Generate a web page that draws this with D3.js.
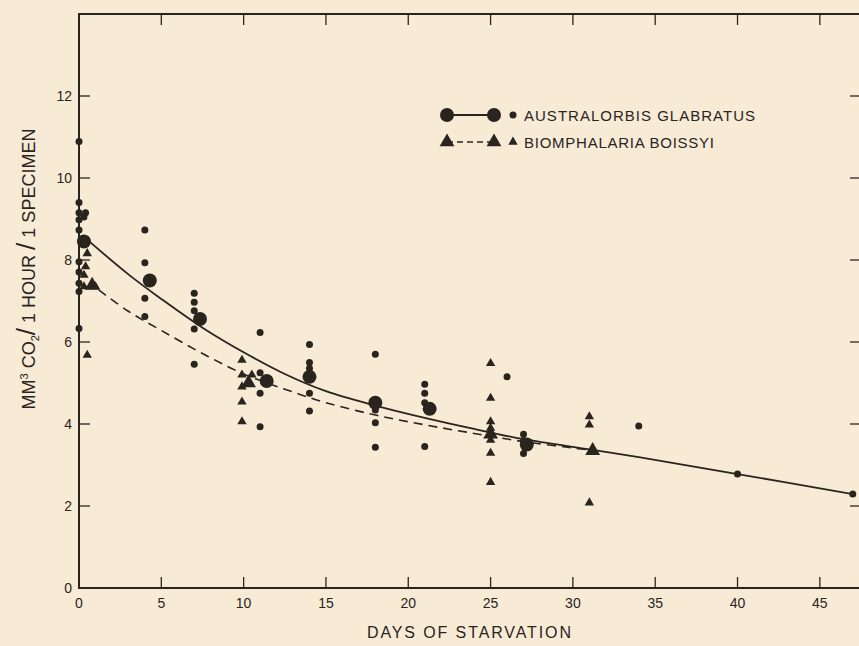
<!DOCTYPE html>
<html>
<head>
<meta charset="utf-8">
<script src="https://cdn.jsdelivr.net/npm/d3@7"></script>
<style>
  html, body { margin: 0; padding: 0; background: #f7ebd5; }
  svg { display: block; }
  text { font-family: "Liberation Sans", "DejaVu Sans", sans-serif; fill: #2a241f; }
</style>
</head>
<body>
<div id="chart"></div>
<script>
// Australorbis glabratus: individual readings [day, value]
var glabratusPoints = [
  [0, 10.89], [0, 9.40], [0, 9.15], [0.4, 9.15], [0.3, 9.05], [0, 8.98], [0, 8.73],
  [0, 7.96], [0, 7.71], [0, 7.43], [0, 7.23], [0, 6.33],
  [4, 8.73], [4, 7.93], [4, 7.07], [4, 6.62],
  [7, 7.19], [7, 6.97], [7, 6.76], [7, 6.32], [7, 5.46],
  [11, 6.23], [11, 5.25], [11, 4.75], [11, 3.93],
  [14, 5.94], [14, 5.50], [14, 5.36], [14, 4.75], [14, 4.32],
  [18, 5.70], [18, 4.34], [18, 4.03], [18, 3.43],
  [21, 4.97], [21, 4.75], [21, 4.52], [21, 3.45],
  [26, 5.15],
  [27, 3.75], [27, 3.60], [27, 3.28],
  [34, 3.95], [40, 2.78], [47, 2.29]
];
// Australorbis glabratus: means (large dots)
var glabratusMeans = [
  [0.3, 8.45], [4.3, 7.5], [7.35, 6.56], [11.4, 5.05], [14, 5.15],
  [18, 4.52], [21.3, 4.37], [27.2, 3.5]
];
// Australorbis glabratus: fitted curve
var glabratusCurve = [
  [0.2, 8.6], [3, 7.65], [5, 7.05], [7.5, 6.35], [10, 5.75], [12.5, 5.22],
  [15, 4.8], [18, 4.45], [21, 4.15], [24, 3.88], [27, 3.63], [31, 3.38],
  [34, 3.19], [40, 2.78], [47, 2.29]
];

// Biomphalaria boissyi: individual readings
var boissyiPoints = [
  [0.5, 8.16], [0.4, 7.84], [0.3, 7.63], [0.3, 7.35], [1.0, 7.35], [0.5, 5.68],
  [9.9, 5.56], [9.9, 5.2], [10.5, 5.2], [9.9, 4.91], [9.9, 4.54], [9.9, 4.06],
  [25, 5.48], [25, 4.63], [25, 4.06], [25, 3.90], [25, 3.61], [25, 3.29], [25, 2.58],
  [31, 4.18], [31, 3.98], [31, 2.08]
];
// Biomphalaria boissyi: means (large triangles)
var boissyiMeans = [
  [0.8, 7.38], [10.3, 5.0], [25, 3.75], [31.2, 3.35]
];
// Biomphalaria boissyi: fitted curve
var boissyiCurve = [
  [1.2, 7.27], [3, 6.75], [5, 6.28], [7.5, 5.72], [10, 5.22], [12.5, 4.85],
  [15, 4.52], [18, 4.22], [21, 3.98], [24, 3.77], [27, 3.57], [31.2, 3.36]
];

var xTicks = [5, 10, 15, 20, 25, 30, 35, 40, 45];
var xLabels = [0, 5, 10, 15, 20, 25, 30, 35, 40, 45];
var yTicks = [2, 4, 6, 8, 10, 12];
var yLabels = [0, 2, 4, 6, 8, 10, 12];

var width = 859, height = 646;
var ink = "#2a241f";

var svg = d3.select("#chart").append("svg")
  .attr("width", width)
  .attr("height", height);

var x = d3.scaleLinear().domain([0, 47.5]).range([79, 861]);
var y = d3.scaleLinear().domain([0, 14]).range([588, 14]);

// frame
svg.append("path")
  .attr("d", "M" + x(0) + "," + y(14) + "H" + x(47.5) + "V" + y(0) + "H" + x(0) + "Z")
  .attr("fill", "none")
  .attr("stroke", ink)
  .attr("stroke-width", 2);

// inward ticks on all four sides
var tl = 11;
var ticks = svg.append("g").attr("stroke", ink).attr("stroke-width", 1.3);
xTicks.forEach(function(d) {
  ticks.append("line").attr("x1", x(d)).attr("x2", x(d)).attr("y1", y(0)).attr("y2", y(0) - tl);
  ticks.append("line").attr("x1", x(d)).attr("x2", x(d)).attr("y1", y(14)).attr("y2", y(14) + tl);
});
yTicks.forEach(function(d) {
  ticks.append("line").attr("x1", x(0)).attr("x2", x(0) + tl).attr("y1", y(d)).attr("y2", y(d));
  ticks.append("line").attr("x1", x(47.5)).attr("x2", x(47.5) - tl).attr("y1", y(d)).attr("y2", y(d));
});

// tick labels
svg.append("g").selectAll("text").data(xLabels).enter().append("text")
  .attr("x", d => x(d))
  .attr("y", y(0) + 20)
  .attr("text-anchor", "middle")
  .attr("font-size", 14)
  .text(d => d);

svg.append("g").selectAll("text").data(yLabels).enter().append("text")
  .attr("x", x(0) - 7)
  .attr("y", d => y(d) + 5)
  .attr("text-anchor", "end")
  .attr("font-size", 14)
  .text(d => d);

// axis titles
svg.append("text")
  .attr("x", 469)
  .attr("y", 638)
  .attr("text-anchor", "middle")
  .attr("font-size", 16)
  .attr("textLength", 204)
  .text("DAYS OF STARVATION");

var yl = svg.append("text")
  .attr("transform", "translate(35,269) rotate(-90)")
  .attr("text-anchor", "middle")
  .attr("font-size", 18);
yl.append("tspan").text("MM");
yl.append("tspan").attr("font-size", 11).attr("dy", -7).text("3");
yl.append("tspan").attr("dy", 7).text(" CO");
yl.append("tspan").attr("font-size", 11).attr("dy", 4).text("2");
yl.append("tspan").attr("dy", -4).attr("font-size", 26).text("/");
yl.append("tspan").text(" 1 HOUR ");
yl.append("tspan").attr("font-size", 26).text("/");
yl.append("tspan").text(" 1 SPECIMEN");

// curves
var line = d3.line().x(d => x(d[0])).y(d => y(d[1])).curve(d3.curveCatmullRom);

svg.append("path")
  .datum(glabratusCurve)
  .attr("d", line)
  .attr("fill", "none")
  .attr("stroke", ink)
  .attr("stroke-width", 1.8);

svg.append("path")
  .datum(boissyiCurve)
  .attr("d", line)
  .attr("fill", "none")
  .attr("stroke", ink)
  .attr("stroke-width", 1.6)
  .attr("stroke-dasharray", "9,6");

// markers
var tri = d3.symbol().type(d3.symbolTriangle);

svg.append("g").selectAll("circle").data(glabratusPoints).enter().append("circle")
  .attr("cx", d => x(d[0]))
  .attr("cy", d => y(d[1]))
  .attr("r", 3.5)
  .attr("fill", ink);

svg.append("g").selectAll("circle").data(glabratusMeans).enter().append("circle")
  .attr("cx", d => x(d[0]))
  .attr("cy", d => y(d[1]))
  .attr("r", 7)
  .attr("fill", ink);

svg.append("g").selectAll("path").data(boissyiPoints).enter().append("path")
  .attr("transform", d => "translate(" + x(d[0]) + "," + y(d[1]) + ")")
  .attr("d", tri.size(38))
  .attr("fill", ink);

svg.append("g").selectAll("path").data(boissyiMeans).enter().append("path")
  .attr("transform", d => "translate(" + x(d[0]) + "," + y(d[1]) + ")")
  .attr("d", tri.size(95))
  .attr("fill", ink);

// legend
var lg = svg.append("g");
var ly1 = 115, ly2 = 142;
lg.append("line").attr("x1", 447).attr("x2", 494).attr("y1", ly1).attr("y2", ly1)
  .attr("stroke", ink).attr("stroke-width", 1.8);
lg.append("circle").attr("cx", 447).attr("cy", ly1).attr("r", 7).attr("fill", ink);
lg.append("circle").attr("cx", 494).attr("cy", ly1).attr("r", 7).attr("fill", ink);
lg.append("circle").attr("cx", 513).attr("cy", ly1).attr("r", 3.5).attr("fill", ink);
lg.append("text").attr("x", 524).attr("y", ly1 + 6).attr("font-size", 15)
  .attr("textLength", 231).text("AUSTRALORBIS GLABRATUS");

lg.append("line").attr("x1", 447).attr("x2", 494).attr("y1", ly2).attr("y2", ly2)
  .attr("stroke", ink).attr("stroke-width", 1.6).attr("stroke-dasharray", "6,4");
lg.append("path").attr("transform", "translate(447," + ly2 + ")").attr("d", tri.size(95)).attr("fill", ink);
lg.append("path").attr("transform", "translate(494," + ly2 + ")").attr("d", tri.size(95)).attr("fill", ink);
lg.append("path").attr("transform", "translate(513," + ly2 + ")").attr("d", tri.size(38)).attr("fill", ink);
lg.append("text").attr("x", 524).attr("y", ly2 + 6).attr("font-size", 15)
  .attr("textLength", 190).text("BIOMPHALARIA BOISSYI");
</script>
</body>
</html>
